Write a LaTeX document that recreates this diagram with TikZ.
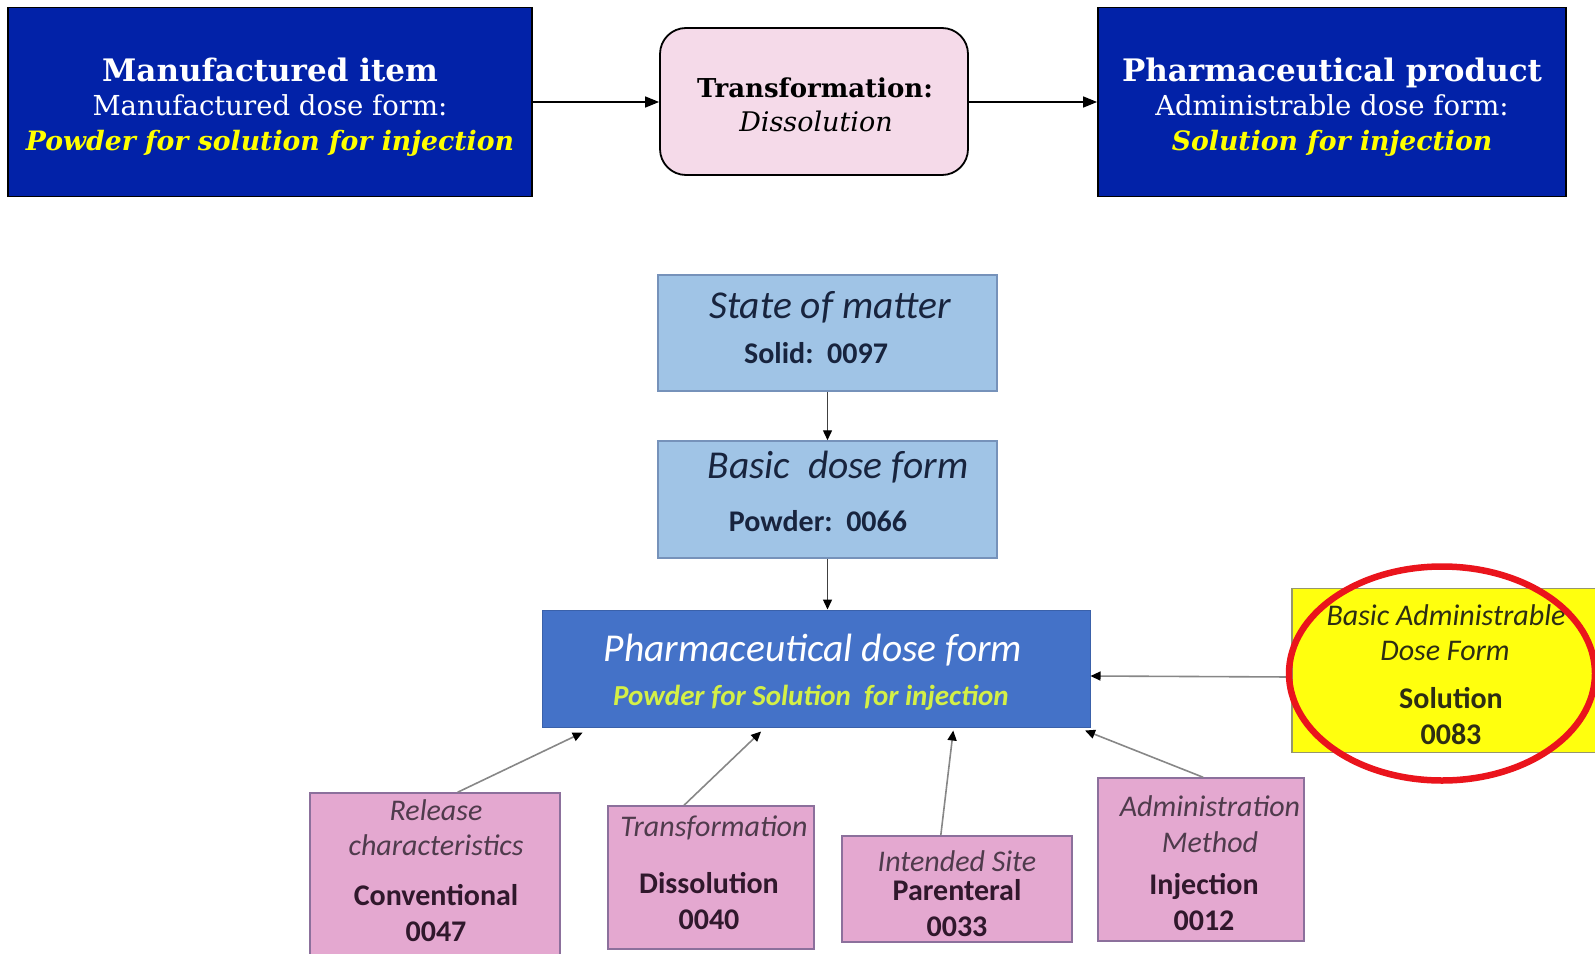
\documentclass[tikz,border=0pt]{standalone}
\usepackage{fontspec}
\setmainfont{DejaVu Serif}
\newfontfamily\calib{Carlito}
\usetikzlibrary{arrows.meta,calc}

\definecolor{navy}{RGB}{2,34,168}
\definecolor{hiyel}{RGB}{255,255,0}
\definecolor{rosebox}{RGB}{245,218,233}
\definecolor{skyfill}{RGB}{160,196,230}
\definecolor{skyedge}{RGB}{118,146,186}
\definecolor{pdfblue}{RGB}{68,114,200}
\definecolor{limetxt}{RGB}{212,240,70}
\definecolor{pinkfill}{RGB}{228,168,208}
\definecolor{pinkedge}{RGB}{140,112,156}
\definecolor{yelfill}{RGB}{255,255,14}
\definecolor{yeledge}{RGB}{150,150,110}
\definecolor{ringred}{RGB}{234,20,28}
\definecolor{inkblue}{RGB}{24,36,62}
\definecolor{inkpink}{RGB}{48,24,44}
\definecolor{inkyel}{RGB}{45,45,20}
\definecolor{linkgray}{RGB}{135,135,135}

\begin{document}
\begin{tikzpicture}[x=1pt,y=-1pt,
  topbox/.style={draw=black, line width=1.8pt, fill=navy, inner sep=0pt},
  procbox/.style={draw=black, line width=1.8pt, fill=rosebox, rounded corners=26pt, inner sep=0pt},
  skybox/.style={draw=skyedge, line width=1.5pt, fill=skyfill, inner sep=0pt},
  mainbox/.style={draw=pdfblue!85!black, line width=1pt, fill=pdfblue, inner sep=0pt},
  pinkbox/.style={draw=pinkedge, line width=1.5pt, fill=pinkfill, inner sep=0pt},
  yelbox/.style={draw=yeledge, line width=1.5pt, fill=yelfill, inner sep=0pt},
  ln/.style={anchor=base, inner sep=0pt},
  toptitle/.style={ln, text=white, font=\fontsize{31}{36}\selectfont\bfseries},
  topsub/.style={ln, text=white, font=\fontsize{27.5}{33}\selectfont},
  tophl/.style={ln, text=hiyel, font=\fontsize{26.7}{33}\selectfont\bfseries\itshape},
  bighead/.style={ln, text=inkblue, font=\calib\fontsize{39.5}{44}\selectfont\itshape},
  bigval/.style={ln, text=inkblue, font=\calib\fontsize{30}{34}\selectfont\bfseries},
  smhead/.style={ln, text=inkpink!85, font=\calib\fontsize{30}{34}\selectfont\itshape},
  smval/.style={ln, text=inkpink, font=\calib\fontsize{30}{34}\selectfont\bfseries},
  yelhead/.style={ln, text=inkyel, font=\calib\fontsize{30}{34}\selectfont\itshape},
  yelval/.style={ln, text=inkyel, font=\calib\fontsize{30}{34}\selectfont\bfseries},
  flow/.style={draw=black, line width=1.5pt, -{Triangle[length=14pt,width=11pt]}},
  link/.style={draw=linkgray, line width=1.6pt, -{Triangle[length=10pt,width=9pt,color=black]}},
  dlink/.style={draw=black!75, line width=1.4pt, -{Triangle[length=10pt,width=9pt,color=black]}}
]
\useasboundingbox (0,0) rectangle (1595,953);

% ---------- top row: manufactured item -> transformation -> product ----------
\node[topbox, minimum width=524pt, minimum height=189pt] (mi) at (270,102) {};
\node[toptitle] (miA) at (270,81) {Manufactured item};
\node[topsub]   (miB) at (270,115) {Manufactured dose form:};
\node[tophl]    (miC) at (270,150) {Powder for solution for injection};

\node[procbox, minimum width=308pt, minimum height=147pt] (tr) at (814,101.5) {};
\node[ln, font=\fontsize{26}{30}\selectfont\bfseries] (trA) at (815,97) {Transformation:};
\node[ln, font=\fontsize{27}{30}\selectfont\itshape] (trB) at (816,131) {Dissolution};

\node[topbox, minimum width=468pt, minimum height=189pt] (pp) at (1332,102) {};
\node[toptitle] (ppA) at (1332,81) {Pharmaceutical product};
\node[topsub]   (ppB) at (1332,115) {Administrable dose form:};
\node[tophl]    (ppC) at (1332,150) {Solution for injection};

\draw[flow] (mi.east |- 0,102) -- (tr.west |- 0,102);
\draw[flow] (tr.east |- 0,102) -- (pp.west |- 0,102);

% ---------- dose form hierarchy ----------
\node[skybox, minimum width=339pt, minimum height=116pt] (som) at (827.5,333) {};
\node[bighead] (somA) at (830,318) {State of matter};
\node[bigval]  (somB) at (816,363) {Solid:\ \ 0097};

\node[skybox, minimum width=339pt, minimum height=117pt] (bdf) at (827.5,499.5) {};
\node[bighead] (bdfA) at (838,478) {Basic\ \ dose form};
\node[bigval]  (bdfB) at (818,531) {Powder:\ \ 0066};

\node[mainbox, minimum width=548pt, minimum height=117pt] (pdf) at (816,668.5) {};
\node[ln, text=white, font=\calib\fontsize{39.5}{44}\selectfont\itshape] (pdfA) at (813,661) {Pharmaceutical dose form};
\node[ln, text=limetxt, font=\calib\fontsize{29}{34}\selectfont\bfseries\itshape] (pdfB) at (811,705) {Powder for Solution\ \ for injection};

\node[yelbox, minimum width=310pt, minimum height=164pt] (bad) at (1447,670.5) {};
\node[yelhead] (badA) at (1446,625) {Basic Administrable};
\node[yelhead] (badB) at (1445,660) {Dose Form};
\node[yelval]  (badC) at (1451,708) {Solution};
\node[yelval]  (badD) at (1451,744) {0083};

\node[pinkbox, minimum width=250pt, minimum height=166pt] (rel) at (435,876) {};
\node[smhead] (relA) at (436,820) {Release};
\node[smhead] (relB) at (436,855) {characteristics};
\node[smval]  (relC) at (436,905) {Conventional};
\node[smval]  (relD) at (436,941) {0047};

\node[pinkbox, minimum width=206pt, minimum height=143pt] (tfm) at (711,877.5) {};
\node[smhead] (tfmA) at (714,836) {Transformation};
\node[smval]  (tfmB) at (709,893) {Dissolution};
\node[smval]  (tfmC) at (709,929) {0040};

\node[pinkbox, minimum width=230pt, minimum height=106pt] (ist) at (957,889) {};
\node[smhead] (istA) at (957,871) {Intended Site};
\node[smval]  (istB) at (957,900) {Parenteral};
\node[smval]  (istC) at (957,936) {0033};

\node[pinkbox, minimum width=206pt, minimum height=163pt] (adm) at (1201,859.5) {};
\node[smhead] (admA) at (1210,816) {Administration};
\node[smhead] (admM) at (1210,852) {Method};
\node[smval]  (admB) at (1204,894) {Injection};
\node[smval]  (admC) at (1204,930) {0012};

% vertical chain
\draw[dlink] (som.south) -- (bdf.north);
\draw[dlink] (bdf.south) -- (bdf.south |- pdf.north);

% feeders into the pharmaceutical dose form
\draw[link] (bad.west |- 0,677) -- (pdf.east |- 0,676);
\draw[link] ($(rel.north west)!0.59!(rel.north east)$) -- ($(pdf.south west)!0.075!(pdf.south east)+(0,5)$);
\draw[link] ($(tfm.north west)!0.37!(tfm.north east)$) -- ($(pdf.south west)!0.40!(pdf.south east)+(0,4)$);
\draw[link] ($(ist.north west)!0.43!(ist.north east)$) -- ($(pdf.south west)!0.75!(pdf.south east)+(0,3)$);
\draw[link] ($(adm.north west)!0.51!(adm.north east)$) -- ($(pdf.south west)!0.99!(pdf.south east)+(0,3)$);

% highlight ring around the basic administrable dose form
\draw[ringred, line width=6.5pt] ($(bad.center)+(-5,3)$) ellipse [x radius=153pt, y radius=107pt];
\end{tikzpicture}
\end{document}
